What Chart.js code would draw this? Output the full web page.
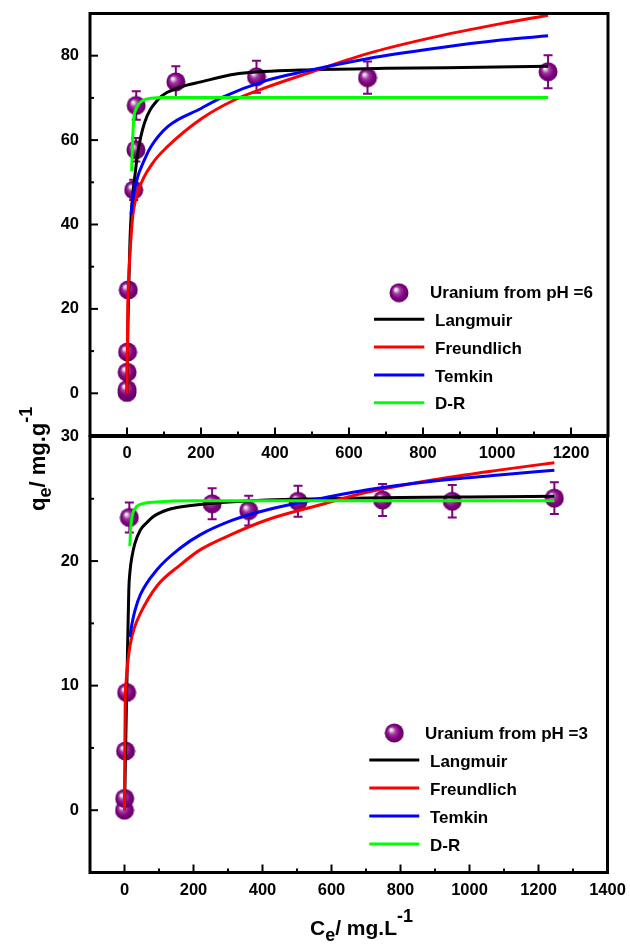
<!DOCTYPE html>
<html>
<head>
<meta charset="utf-8">
<script src="https://cdn.jsdelivr.net/npm/chart.js@4/dist/chart.umd.min.js"></script>
<style>
html,body{margin:0;padding:0;background:#fff;}
#wrap{position:relative;width:630px;height:944px;background:#fff;}
#wrap canvas{position:absolute;left:0;top:0;}
</style>
</head>
<body>
<div id="wrap">
<canvas id="cBot" width="630" height="944"></canvas>
<canvas id="cTop" width="630" height="944"></canvas>
</div>
<script>
// ---------- data : upper panel (pH = 6) ----------
const ce6  = [0, 0.5, 0.5, 1.5, 3.5, 18, 24, 25, 132, 350, 650, 1138];
const qe6  = [0.2, 0.9, 5.0, 9.8, 24.5, 48.2, 57.7, 68.2, 73.8, 75.0, 74.8, 76.2];
const err6 = [0.4, 0.4, 0.5, 0.6, 1.4, 2.4, 2.8, 3.4, 3.7, 3.8, 3.8, 3.9];

const lang6X = [0, 1, 2.5, 5, 8, 11, 15, 20, 29, 47, 83, 146, 200, 290, 470, 700, 1000, 1138];
const lang6Y = [0, 7, 16, 26, 36, 42, 46.5, 50.5, 56.9, 64, 69.5, 72.6, 73.8, 75.6, 76.6, 77.0, 77.3, 77.5];
const fr6X   = [0, 1, 2, 4, 6, 8, 15.4, 33, 69, 110, 200, 290, 380, 470, 650, 830, 1011, 1138];
const fr6Y   = [0, 10, 20, 26, 30, 33, 41.9, 48.5, 54.5, 58.5, 65, 69.5, 72.6, 75.3, 80.5, 84.4, 87.6, 89.6];
const tem6X  = [10.8, 15, 24, 51, 65, 110, 200, 254, 380, 470, 650, 830, 1011, 1138];
const tem6Y  = [42.4, 45.5, 49.8, 56.1, 58.5, 63.2, 67.5, 70.0, 74.2, 76.1, 79.3, 81.7, 83.7, 84.7];
const dr6X   = [12.6, 14, 16, 18, 25, 33, 45, 65, 100, 300, 600, 900, 1138];
const dr6Y   = [52.6, 57, 61.5, 64.8, 67.5, 68.7, 69.5, 69.9, 70.1, 70.1, 70.1, 70.1, 70.1];

// ---------- data : lower panel (pH = 3) ----------
const ce3  = [0, 0.5, 3, 6, 14, 254, 360, 503, 748, 950, 1246];
const qe3  = [0, 0.95, 4.75, 9.45, 23.5, 24.6, 24.05, 24.8, 24.9, 24.8, 25.05];
const err3 = [0.2, 0.2, 0.3, 0.4, 1.2, 1.25, 1.2, 1.24, 1.28, 1.3, 1.28];

const lang3X = [0, 2, 5, 7.7, 10, 12.5, 16, 22, 30, 46, 65, 85, 123, 152, 219, 412, 565, 800, 1000, 1246];
const lang3Y = [0, 3, 7.5, 11.25, 14.5, 17.7, 19.2, 20.4, 21.4, 22.5, 23.1, 23.6, 24.1, 24.3, 24.55, 24.9, 25.0, 25.1, 25.15, 25.2];
const fr3X   = [0, 1, 2, 5, 9.6, 17.3, 28, 46, 94, 162, 219, 315, 412, 565, 700, 892, 1085, 1246];
const fr3Y   = [0, 5, 8.5, 10.4, 11.9, 13.4, 14.6, 15.8, 18.0, 19.7, 20.9, 22.2, 23.3, 24.5, 25.5, 26.5, 27.3, 27.9];
const tem3X  = [15.4, 22, 30, 46, 94, 162, 219, 315, 412, 565, 700, 892, 1085, 1246];
const tem3Y  = [13.9, 15.0, 16.0, 17.3, 19.3, 21.05, 22.1, 23.3, 24.1, 25.0, 25.7, 26.4, 26.9, 27.3];
const dr3X   = [15.4, 18, 22, 30, 46, 94, 200, 500, 800, 1100, 1246];
const dr3Y   = [21.2, 22.6, 23.6, 24.2, 24.55, 24.75, 24.85, 24.85, 24.85, 24.85, 24.85];

// ---------- tick labels ----------
const xTicks6 = [0, 200, 400, 600, 800, 1000, 1200];
const yTicks6 = [0, 20, 40, 60, 80];
const xTicks3 = [0, 200, 400, 600, 800, 1000, 1200, 1400];
const yTicks3 = [0, 10, 20, 30];

const seriesNames = ['Langmuir', 'Freundlich', 'Temkin', 'D-R'];
const seriesColors = ['#000000', '#ff0000', '#0000ff', '#00ff00'];
const pointName6 = 'Uranium from pH =6';
const pointName3 = 'Uranium from pH =3';

// ---------- helpers ----------
const FAMILY = '"Liberation Sans", Arial, Helvetica, sans-serif';
function toPts(xs, ys) { return xs.map((v, i) => ({x: v, y: ys[i]})); }

function makeSphere(r) {
  const c = document.createElement('canvas');
  const s = Math.ceil(r * 2) + 1;
  c.width = s; c.height = s;
  const g = c.getContext('2d');
  const cx = s / 2, cy = s / 2;
  const grad = g.createRadialGradient(cx - r * 0.38, cy - r * 0.38, 0, cx, cy, r);
  grad.addColorStop(0, '#ffffff');
  grad.addColorStop(0.12, '#f0dcf0');
  grad.addColorStop(0.38, '#a03ca0');
  grad.addColorStop(0.7, '#820082');
  grad.addColorStop(1, '#5e005e');
  g.fillStyle = grad;
  g.beginPath(); g.arc(cx, cy, r, 0, Math.PI * 2); g.fill();
  return c;
}
const sphere = makeSphere(9.5);

function lineDs(label, xs, ys, color, order) {
  return {
    label, data: toPts(xs, ys), showLine: true, borderColor: color, backgroundColor: color,
    borderWidth: 3, pointRadius: 0, cubicInterpolationMode: 'monotone', order
  };
}
function pointDs(label, xs, ys, errs) {
  return {
    label, data: toPts(xs, ys), showLine: false, pointStyle: sphere, pointRadius: 9,
    errors: errs, order: 10
  };
}

const errorBars = {
  id: 'errorBars',
  beforeDatasetsDraw(chart) {
    const {ctx, scales: {x, y}} = chart;
    chart.data.datasets.forEach(ds => {
      if (!ds.errors) return;
      ctx.save();
      ctx.strokeStyle = '#800080';
      ctx.lineWidth = 2;
      ds.data.forEach((p, i) => {
        const e = ds.errors[i];
        const px = x.getPixelForValue(p.x);
        const y1 = y.getPixelForValue(p.y + e), y2 = y.getPixelForValue(p.y - e);
        ctx.beginPath();
        ctx.moveTo(px, y1); ctx.lineTo(px, y2);
        ctx.moveTo(px - 4.5, y1); ctx.lineTo(px + 4.5, y1);
        ctx.moveTo(px - 4.5, y2); ctx.lineTo(px + 4.5, y2);
        ctx.stroke();
      });
      ctx.restore();
    });
  }
};

const frameTicks = {
  id: 'frameTicks',
  afterDraw(chart, args, o) {
    const {ctx, chartArea: a, scales: {x, y}} = chart;
    ctx.save();
    ctx.strokeStyle = '#000';
    ctx.lineWidth = 2;
    const tk = (px, py, dx, dy) => { ctx.beginPath(); ctx.moveTo(px, py); ctx.lineTo(px + dx, py + dy); ctx.stroke(); };
    o.xTicks.forEach((v, i) => {
      const p = x.getPixelForValue(v);
      tk(p, a.bottom, 0, -8);
      const m = x.getPixelForValue(v + o.xStep / 2);
      if (m < a.right - 2) tk(m, a.bottom, 0, -4);
      if (i === 0) { const m0 = x.getPixelForValue(v - o.xStep / 2); if (m0 > a.left + 2) tk(m0, a.bottom, 0, -4); }
    });
    o.yTicks.forEach((v, i) => {
      const p = y.getPixelForValue(v);
      tk(a.left, p, 8, 0);
      const m = y.getPixelForValue(v + o.yStep / 2);
      if (m > a.top + 2) tk(a.left, m, 4, 0);
      if (i === 0) { const m0 = y.getPixelForValue(v - o.yStep / 2); if (m0 < a.bottom - 2) tk(a.left, m0, 4, 0); }
    });
    ctx.lineWidth = 3;
    ctx.strokeRect(a.left, a.top, a.right - a.left, a.bottom - a.top);
    ctx.restore();
  }
};

const customLegend = {
  id: 'customLegend',
  afterDraw(chart, args, o) {
    const ctx = chart.ctx;
    ctx.save();
    ctx.drawImage(sphere, o.mx - sphere.width / 2, o.my - sphere.height / 2);
    ctx.fillStyle = '#000';
    ctx.font = 'bold 17px ' + FAMILY;
    ctx.textBaseline = 'middle';
    ctx.textAlign = 'left';
    ctx.fillText(o.pointLabel, o.ptx, o.my + 1);
    seriesNames.forEach((n, i) => {
      const ly = o.ly0 + i * o.dy;
      ctx.strokeStyle = seriesColors[i];
      ctx.lineWidth = 3;
      ctx.beginPath(); ctx.moveTo(o.lx1, ly); ctx.lineTo(o.lx2, ly); ctx.stroke();
      ctx.fillText(n, o.tx, ly + 2);
    });
    ctx.restore();
  }
};

function drawRich(ctx, parts, x, y) {
  let cx = x;
  parts.forEach(p => {
    ctx.font = 'bold ' + p.size + 'px ' + FAMILY;
    ctx.fillText(p.t, cx, y + p.dy);
    cx += ctx.measureText(p.t).width;
  });
}

const axisTitles = {
  id: 'axisTitles',
  afterDraw(chart) {
    const ctx = chart.ctx;
    ctx.save();
    ctx.fillStyle = '#000';
    ctx.textBaseline = 'alphabetic';
    ctx.textAlign = 'left';
    // x title
    drawRich(ctx, [
      {t: 'C', size: 21, dy: 0}, {t: 'e', size: 18, dy: 6}, {t: '/ mg.L', size: 21, dy: 0}, {t: '-1', size: 18, dy: -13}
    ], 310, 935);
    // y title
    ctx.translate(45, 511);
    ctx.rotate(-Math.PI / 2);
    drawRich(ctx, [
      {t: 'q', size: 22, dy: 0}, {t: 'e', size: 18, dy: 6}, {t: '/ mg.g', size: 22, dy: 0}, {t: '-1', size: 18, dy: -13}
    ], 0, 0);
    ctx.restore();
  }
};

const tickFont = {family: FAMILY, size: 16.5, weight: 'bold'};

function makeScales(xmin, xmax, ymin, ymax, xt, yt) {
  return {
    x: {
      type: 'linear', min: xmin, max: xmax,
      afterFit: s => { s.height = 30; s.paddingLeft = 0; s.paddingRight = 0; },
      afterBuildTicks: s => { s.ticks = xt.map(v => ({value: v})); },
      grid: {display: false, drawTicks: false}, border: {display: false},
      ticks: {padding: 8, font: tickFont, color: '#000', maxRotation: 0, autoSkip: false, callback: v => String(v)}
    },
    y: {
      type: 'linear', min: ymin, max: ymax,
      afterFit: s => { s.width = 90; s.paddingTop = 0; s.paddingBottom = 0; },
      afterBuildTicks: s => { s.ticks = yt.map(v => ({value: v})); },
      grid: {display: false, drawTicks: false}, border: {display: false},
      ticks: {padding: 11, font: tickFont, color: '#000', autoSkip: false, callback: v => String(v)}
    }
  };
}

// ---------- lower chart ----------
new Chart(document.getElementById('cBot'), {
  type: 'scatter',
  data: {datasets: [
    lineDs(seriesNames[0], lang3X, lang3Y, seriesColors[0], 4),
    lineDs(seriesNames[1], fr3X, fr3Y, seriesColors[1], 3),
    lineDs(seriesNames[2], tem3X, tem3Y, seriesColors[2], 2),
    lineDs(seriesNames[3], dr3X, dr3Y, seriesColors[3], 1),
    pointDs(pointName3, ce3, qe3, err3)
  ]},
  options: {
    responsive: false, animation: false, events: [],
    layout: {padding: {left: 0, top: 436.5, right: 22.5, bottom: 41.5}},
    plugins: {
      legend: {display: false}, tooltip: {enabled: false},
      frameTicks: {xTicks: xTicks3, xStep: 200, yTicks: yTicks3, yStep: 10},
      customLegend: {pointLabel: pointName3, mx: 394.3, my: 733, ptx: 425, lx1: 369.3, lx2: 419.3, ly0: 760, dy: 28, tx: 430}
    },
    scales: makeScales(-100, 1400, -5, 30, xTicks3, yTicks3)
  },
  plugins: [errorBars, frameTicks, customLegend, axisTitles]
});

// ---------- upper chart ----------
new Chart(document.getElementById('cTop'), {
  type: 'scatter',
  data: {datasets: [
    lineDs(seriesNames[0], lang6X, lang6Y, seriesColors[0], 4),
    lineDs(seriesNames[1], fr6X, fr6Y, seriesColors[1], 3),
    lineDs(seriesNames[2], tem6X, tem6Y, seriesColors[2], 2),
    lineDs(seriesNames[3], dr6X, dr6Y, seriesColors[3], 1),
    pointDs(pointName6, ce6, qe6, err6)
  ]},
  options: {
    responsive: false, animation: false, events: [],
    layout: {padding: {left: 0, top: 13.5, right: 22, bottom: 478.5}},
    plugins: {
      legend: {display: false}, tooltip: {enabled: false},
      frameTicks: {xTicks: xTicks6, xStep: 200, yTicks: yTicks6, yStep: 20},
      customLegend: {pointLabel: pointName6, mx: 399, my: 292.7, ptx: 430, lx1: 374, lx2: 424.3, ly0: 319.3, dy: 27.8, tx: 435}
    },
    scales: makeScales(-100, 1300, -10, 90, xTicks6, yTicks6)
  },
  plugins: [errorBars, frameTicks, customLegend]
});
</script>
</body>
</html>
